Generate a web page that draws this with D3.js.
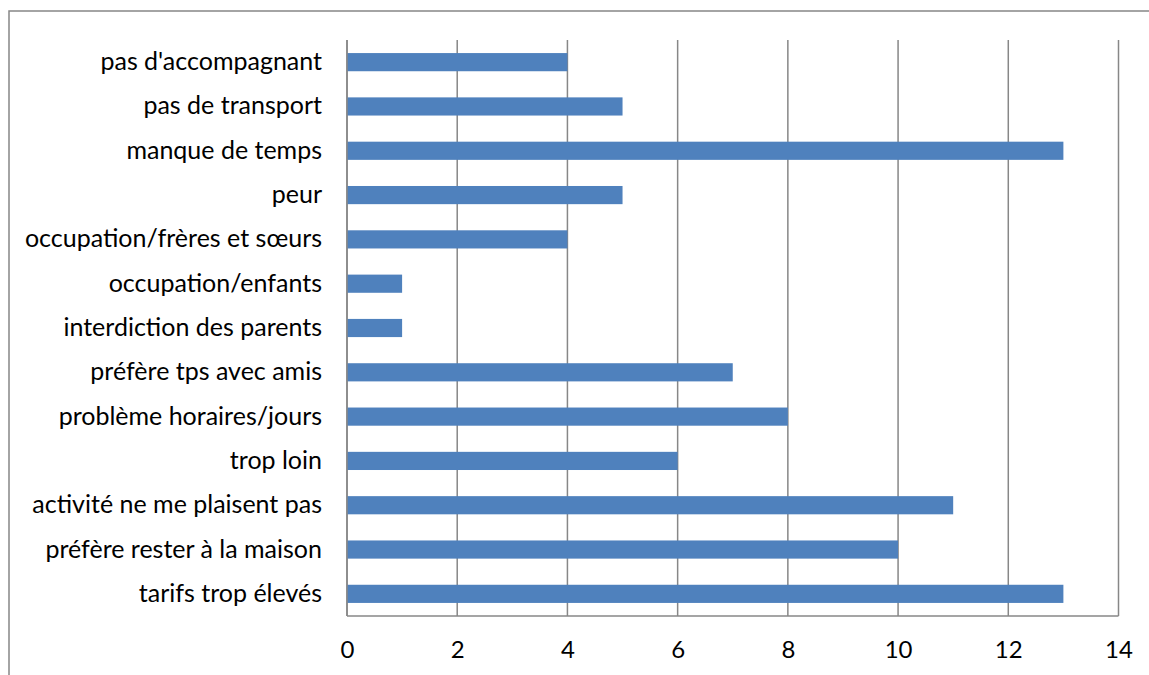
<!DOCTYPE html>
<html><head><meta charset="utf-8">
<script src="https://cdn.jsdelivr.net/npm/d3@7"></script>
<style>body{margin:0;background:#fff;}svg{display:block;}</style>
</head><body>
<svg id="c" width="1149" height="675"></svg>
<script>
const categories = ["pas d'accompagnant","pas de transport","manque de temps","peur","occupation/frères et sœurs","occupation/enfants","interdiction des parents","préfère tps avec amis","problème horaires/jours","trop loin","activité ne me plaisent pas","préfère rester à la maison","tarifs trop élevés"];
const values = [4,5,13,5,4,1,1,7,8,6,11,10,13];
const xTicks = [0,2,4,6,8,10,12,14];

const svg = d3.select("#c");
const pLeft = 347, pRight = 1118.5, pTop = 40, pBottom = 616;
const font = "Lato, 'Open Sans', sans-serif";

svg.append("rect").attr("x",9).attr("y",11).attr("width",1160).attr("height",700)
  .attr("fill","none").attr("stroke","#878787").attr("stroke-width",1.5);

const x = d3.scaleLinear().domain([0,14]).range([pLeft,pRight]);
const y = d3.scaleBand().domain(categories).range([pTop,pBottom]).paddingInner(0.59).paddingOuter(0.295);

// gridlines
svg.append("g").selectAll("line").data(xTicks).join("line")
  .attr("x1",d=>x(d)).attr("x2",d=>x(d)).attr("y1",pTop).attr("y2",pBottom)
  .attr("stroke","#878787").attr("stroke-width",1.5);

// bars
svg.append("g").selectAll("rect").data(values).join("rect")
  .attr("x",x(0)).attr("y",(d,i)=>y(categories[i]))
  .attr("width",d=>x(d)-x(0)).attr("height",y.bandwidth())
  .attr("fill","#4F81BD");

// axes lines
svg.append("line").attr("x1",pLeft).attr("x2",pRight).attr("y1",pBottom).attr("y2",pBottom)
  .attr("stroke","#878787").attr("stroke-width",1.5);
svg.append("line").attr("x1",pLeft).attr("x2",pLeft).attr("y1",pTop).attr("y2",pBottom)
  .attr("stroke","#878787").attr("stroke-width",1.5);

// x axis labels
const xa = svg.append("g").attr("transform",`translate(0,${pBottom})`)
  .call(d3.axisBottom(x).tickValues(xTicks).tickSize(0).tickPadding(25));
xa.select(".domain").remove();
xa.selectAll("text").attr("font-family",font).attr("font-size",24).attr("fill","#000");

// y labels
const ya = svg.append("g").attr("transform",`translate(${pLeft},0)`)
  .call(d3.axisLeft(y).tickSize(0).tickPadding(25));
ya.select(".domain").remove();
ya.selectAll("text").attr("font-family",font).attr("font-size",25).attr("fill","#000");
</script>
</body></html>
